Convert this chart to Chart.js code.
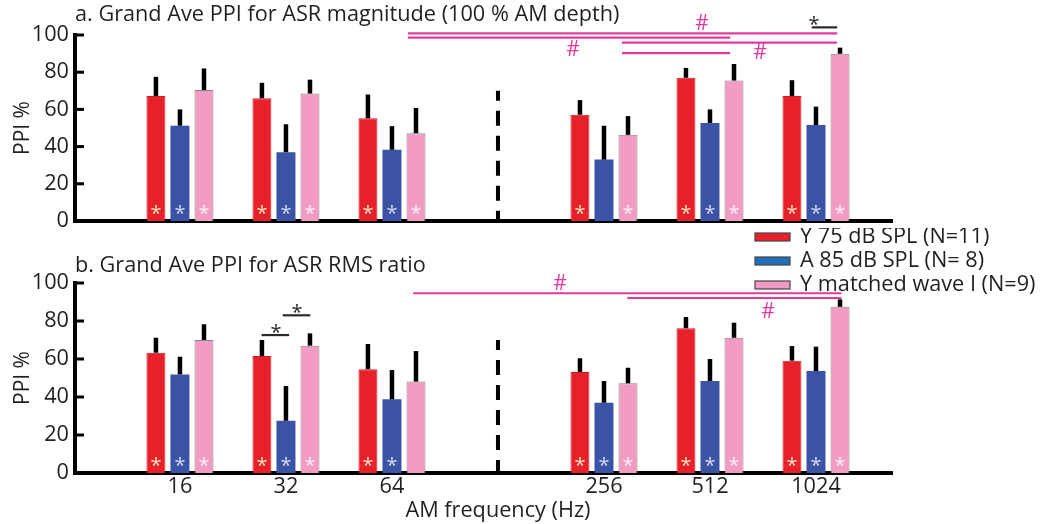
<!DOCTYPE html>
<html><head><meta charset="utf-8">
<script src="https://cdn.jsdelivr.net/npm/chart.js@4/dist/chart.umd.min.js"></script>
<style>
html,body{margin:0;padding:0;background:#fff;}
#wrap{position:relative;width:1042px;height:524px;overflow:hidden;background:#fff;}
#ca{position:absolute;left:0;top:0;}
#cb{position:absolute;left:0;top:228px;}
</style></head><body>
<div id="wrap"><canvas id="ca" width="1042" height="240"></canvas><canvas id="cb" width="1042" height="296"></canvas></div>
<script>
// ---------- data ----------
const categories = ['16', '32', '64', '256', '512', '1024'];
const slots = [0, 1, 2, 4, 5, 6];          // slot 3 is the gap (dashed separator)
const gapSlot = 3;
const seriesNames = ['Y 75 dB SPL (N=11)', 'A 85 dB SPL (N= 8)', 'Y matched wave I (N=9)'];
const yTicks = [0, 20, 40, 60, 80, 100];

// panel a: ASR magnitude
const aY75 = [67.2, 66.0, 55.2, 57.1, 77.0, 67.2];
const aY75Err = [10.3, 8.3, 12.8, 7.9, 5.3, 8.5];
const aA85 = [51.2, 37.0, 38.3, 33.0, 52.7, 51.6];
const aA85Err = [8.8, 15.0, 12.7, 18.2, 7.3, 9.9];
const aYmw = [70.4, 68.5, 47.2, 46.3, 75.5, 89.9];
const aYmwErr = [11.6, 7.5, 13.6, 10.1, 8.9, 3.3];
const aStars = [[1,1,1,1,1,1],[1,1,1,0,1,1],[1,1,1,1,1,1]];
// significance lines [fromSlot, toSlot, level]
const aHashLines = [[2.15, 6.20, 100.9], [2.15, 5.19, 98.6], [4.17, 6.20, 95.9], [4.17, 5.19, 90.3]];
const aStarLines = [[5.96, 6.20, 104.1]];
const aHashMarks = [[4.925, 105.9], [3.708, 92.0], [5.472, 90.4]];
const aStarMarks = [[5.981, 108.5]];

// panel b: ASR RMS ratio
const bY75 = [63.3, 61.6, 54.6, 53.2, 76.2, 59.1];
const bY75Err = [7.9, 8.4, 13.3, 7.2, 5.9, 7.7];
const bA85 = [51.9, 27.5, 38.8, 37.0, 48.4, 53.7];
const bA85Err = [9.3, 18.3, 15.4, 11.4, 11.6, 12.8];
const bYmw = [70.0, 67.0, 48.1, 47.2, 71.2, 87.5];
const bYmwErr = [8.3, 6.5, 16.1, 8.2, 7.9, 3.9];
const bStars = [[1,1,1,1,1,1],[1,1,1,1,1,1],[1,1,0,1,1,1]];
const bHashLines = [[2.20, 6.24, 94.6], [4.22, 6.24, 92.1]];
const bStarLines = [[0.77, 1.03, 72.6], [0.97, 1.23, 83.0]];
const bHashMarks = [[3.585, 99.5], [5.547, 84.9]];
const bStarMarks = [[0.906, 76.8], [1.104, 87.5]];

const dashTop = 70;
const starLevel = 7;

// ---------- style ----------
const FONT = "'Open Sans', 'DejaVu Sans', sans-serif";
const FS = 21.7;
const TXT = '#231f20';
const MAGENTA = '#E2399C';
Chart.defaults.font.family = FONT;
Chart.defaults.color = TXT;
const barColors = ['#E8202A', '#3A53A4', '#F39CC3'];
const barBorders = ['#C81E26', '#3A53A4', '#8E8088'];
const legendColors = ['#E8202A', '#1F6FB8', '#F39CC3'];
const starColors = ['#FBE2C0', '#D2D7F2', '#FDF0F6'];

function buildDatasets(values) {
  return values.map((vals, s) => ({
    label: seriesNames[s],
    data: vals.map((v, i) => ({x: slots[i], y: v})),
    backgroundColor: barColors[s],
    borderColor: barBorders[s],
    borderWidth: s === 1 ? 0 : 1,
    categoryPercentage: 0.68,
    barPercentage: 0.79
  }));
}

function extras(p) {
  return {
    id: 'extras',
    afterDatasetsDraw(chart) {
      const {ctx, chartArea, scales: {x, y}} = chart;
      ctx.save();
      // dashed separator
      const gx = x.getPixelForValue(gapSlot);
      ctx.strokeStyle = '#000'; ctx.lineWidth = 4;
      ctx.setLineDash([15, 10]); ctx.lineDashOffset = 5;
      ctx.beginPath(); ctx.moveTo(gx, y.getPixelForValue(dashTop)); ctx.lineTo(gx, y.getPixelForValue(0)); ctx.stroke();
      ctx.setLineDash([]);
      // error bars (upper only)
      ctx.lineWidth = 4.5;
      p.errors.forEach((errs, s) => {
        chart.getDatasetMeta(s).data.forEach((bar, i) => {
          ctx.beginPath();
          ctx.moveTo(bar.x, bar.y);
          ctx.lineTo(bar.x, y.getPixelForValue(p.values[s][i] + errs[i]));
          ctx.stroke();
        });
      });
      // asterisks inside bars
      ctx.font = '20px ' + FONT; ctx.textAlign = 'center'; ctx.textBaseline = 'alphabetic';
      p.stars.forEach((flags, s) => {
        chart.getDatasetMeta(s).data.forEach((bar, i) => {
          if (!flags[i]) return;
          ctx.fillStyle = starColors[s];
          ctx.fillText('*', bar.x, y.getPixelForValue(starLevel) + 12);
        });
      });
      // inward y ticks
      ctx.lineWidth = 3; ctx.strokeStyle = '#000';
      yTicks.forEach(v => {
        const py = y.getPixelForValue(v);
        ctx.beginPath(); ctx.moveTo(chartArea.left, py); ctx.lineTo(chartArea.left + 9, py); ctx.stroke();
      });
      ctx.restore();
    },
    afterDraw(chart) {
      const {ctx, chartArea, scales: {x, y}} = chart;
      ctx.save();
      ctx.lineWidth = 2.2;
      ctx.strokeStyle = MAGENTA;
      p.hashLines.forEach(([a, b, lv]) => {
        const py = y.getPixelForValue(lv);
        ctx.beginPath(); ctx.moveTo(x.getPixelForValue(a), py); ctx.lineTo(x.getPixelForValue(b), py); ctx.stroke();
      });
      ctx.strokeStyle = '#2a2a2a';
      p.starLines.forEach(([a, b, lv]) => {
        const py = y.getPixelForValue(lv);
        ctx.beginPath(); ctx.moveTo(x.getPixelForValue(a), py); ctx.lineTo(x.getPixelForValue(b), py); ctx.stroke();
      });
      ctx.textAlign = 'center';
      ctx.font = '21px ' + FONT;
      ctx.textBaseline = 'middle';
      ctx.fillStyle = MAGENTA;
      p.hashMarks.forEach(([a, lv]) => ctx.fillText('#', x.getPixelForValue(a), y.getPixelForValue(lv)));
      ctx.font = '20px ' + FONT;
      ctx.fillStyle = '#2a2a2a';
      ctx.textBaseline = 'alphabetic';
      p.starMarks.forEach(([a, lv]) => ctx.fillText('*', x.getPixelForValue(a), y.getPixelForValue(lv) + 12));
      if (p.legend) {
        ctx.textAlign = 'left'; ctx.textBaseline = 'middle';
        ctx.font = FS + 'px ' + FONT;
        seriesNames.forEach((name, s) => {
          const cy = 9 + s * 24;
          ctx.fillStyle = legendColors[s];
          ctx.fillRect(755, cy - 4, 35, 8);
          ctx.strokeStyle = '#444'; ctx.lineWidth = 1.2;
          ctx.strokeRect(755, cy - 4, 35, 8);
          ctx.fillStyle = TXT;
          ctx.fillText(name, 800, cy);
        });
      }
      if (p.xTitle) {
        ctx.textAlign = 'center'; ctx.textBaseline = 'middle';
        ctx.font = FS + 'px ' + FONT; ctx.fillStyle = TXT;
        ctx.fillText(p.xTitle, x.getPixelForValue(gapSlot), chartArea.bottom + 38);
      }
      ctx.restore();
    }
  };
}

function makeChart(id, p) {
  const values = p.values;
  return new Chart(document.getElementById(id), {
    type: 'bar',
    data: {datasets: buildDatasets(values)},
    options: {
      responsive: false, animation: false, devicePixelRatio: 1,
      layout: {padding: {left: 0, right: 150, top: 0, bottom: 0}},
      plugins: {
        legend: {display: false}, tooltip: {enabled: false},
        title: {display: true, text: p.title, align: 'start', fullSize: false,
          font: {size: FS, weight: 'normal', lineHeight: 1.2}, color: TXT, padding: p.titlePad}
      },
      scales: {
        x: {
          type: 'linear', min: -0.99, max: 6.717, offset: false, z: 1,
          grid: {display: false, drawTicks: false},
          border: {display: true, width: 4, color: '#000'},
          afterBuildTicks: s => { s.ticks = slots.map(v => ({value: v})); },
          afterFit: s => { s.height = p.xHeight; },
          ticks: {display: p.showX, autoSkip: false, maxRotation: 0, padding: 1,
            font: {size: FS}, color: TXT,
            callback: v => { const k = slots.indexOf(v); return k >= 0 ? categories[k] : ''; }}
        },
        y: {
          min: 0, max: 100,
          grid: {display: false, drawTicks: false},
          border: {display: true, width: 4, color: '#000'},
          afterBuildTicks: s => { s.ticks = yTicks.map(v => ({value: v})); },
          afterFit: s => { s.width = 75; },
          ticks: {padding: 6, font: {size: FS}, color: TXT},
          title: {display: true, text: 'PPI %', font: {size: 21}, color: TXT, padding: {top: 10, bottom: 0}}
        }
      }
    },
    plugins: [extras(p)]
  });
}

makeChart('ca', {
  title: 'a. Grand Ave PPI for ASR magnitude (100 % AM depth)',
  titlePad: {top: 2, bottom: 6.96}, xHeight: 17, showX: false,
  values: [aY75, aA85, aYmw], errors: [aY75Err, aA85Err, aYmwErr], stars: aStars,
  hashLines: aHashLines, starLines: aStarLines, hashMarks: aHashMarks, starMarks: aStarMarks,
  legend: false, xTitle: null
});
makeChart('cb', {
  title: 'b. Grand Ave PPI for ASR RMS ratio',
  titlePad: {top: 25, bottom: 3.96}, xHeight: 51, showX: true,
  values: [bY75, bA85, bYmw], errors: [bY75Err, bA85Err, bYmwErr], stars: bStars,
  hashLines: bHashLines, starLines: bStarLines, hashMarks: bHashMarks, starMarks: bStarMarks,
  legend: true, xTitle: 'AM frequency (Hz)'
});
</script>
</body></html>
